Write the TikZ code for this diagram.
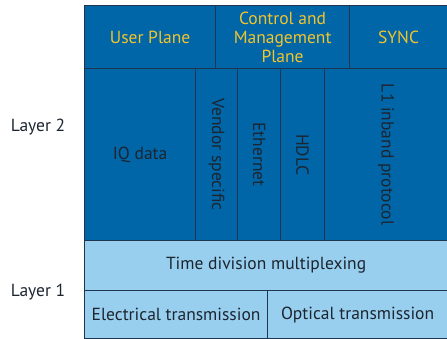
\documentclass[tikz,border=0pt]{standalone}
\usepackage{fontspec}
\setmainfont{PT Sans}
\definecolor{darkcell}{HTML}{0066A8}
\definecolor{lightcell}{HTML}{99CFEE}
\definecolor{planetext}{HTML}{F2C42C}
\definecolor{edgeline}{HTML}{1E3550}
\definecolor{bodytext}{HTML}{1C2530}
\tikzset{
  cell/.style={draw=edgeline, line width=1.2pt, anchor=north west, inner sep=0pt, align=center, font=\fontsize{17.5}{19}\selectfont},
  plane/.style={cell, fill=darkcell, text=planetext, minimum height=63pt},
  proto/.style={cell, fill=darkcell, text=bodytext, minimum height=172pt},
  phys/.style={cell, fill=lightcell, text=bodytext},
  layer/.style={text=bodytext, font=\fontsize{17.5}{19}\selectfont}
}
\begin{document}
\begin{tikzpicture}[x=1pt,y=-1pt]
\useasboundingbox (0,0) rectangle (447,338);
% layer 2: planes
\node[plane, minimum width=131pt] (user) at (84,5) {User Plane};
\node[plane, minimum width=134pt] (ctrl) at (215,5) {Control and\\Management\\Plane};
\node[plane, minimum width=98pt] (sync) at (349,5) {SYNC};
% layer 2: protocols
\node[proto, minimum width=111pt] (iq) at (84,68) {IQ data};
\node[proto, minimum width=42pt] (vendor) at (195,68) {};
\node[rotate=-90, layer] at (vendor.center) {Vendor specific};
\node[proto, minimum width=43pt] (eth) at (237,68) {};
\node[rotate=-90, layer] at (eth.center) {Ethernet};
\node[proto, minimum width=44pt] (hdlc) at (280,68) {};
\node[rotate=-90, layer] at (hdlc.center) {HDLC};
\node[proto, minimum width=123pt] (inband) at (324,68) {};
\node[rotate=-90, layer] at (inband.center) {L1 inband protocol};
% layer 1
\node[phys, minimum width=363pt, minimum height=50pt] (tdm) at (84,240) {Time division multiplexing};
\node[phys, minimum width=183pt, minimum height=48pt] (elec) at (84,290) {Electrical transmission};
\node[phys, minimum width=180pt, minimum height=48pt] (opt) at (267,290) {Optical transmission};
% layer names
\node[layer] (l2) at (38,127) {Layer 2};
\node[layer] (l1) at (38,292) {Layer 1};
\end{tikzpicture}
\end{document}
